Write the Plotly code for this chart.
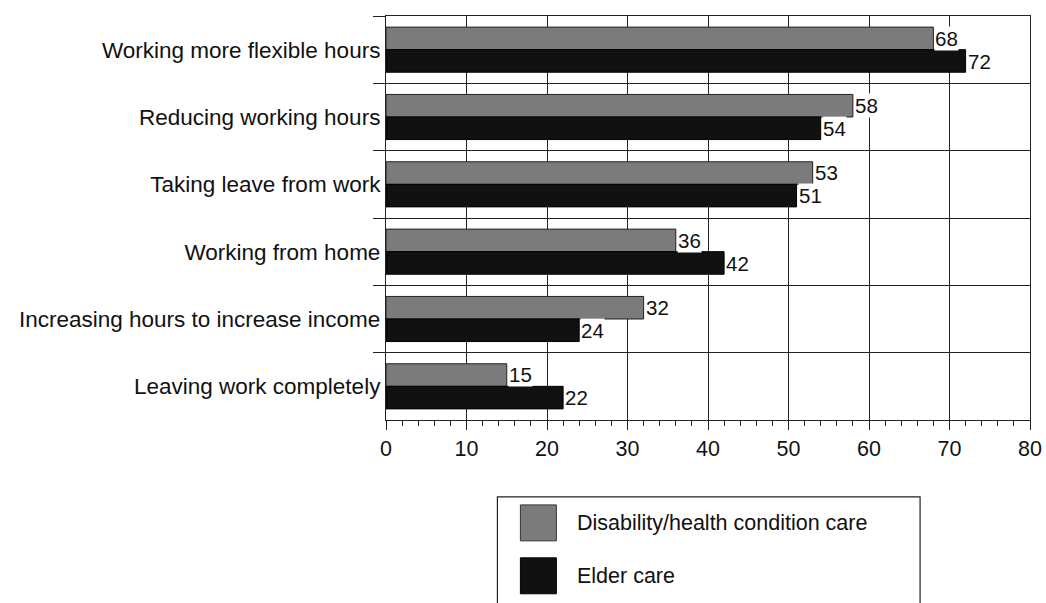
import plotly.graph_objects as go

categories = [
    "Working more flexible hours",
    "Reducing working hours",
    "Taking leave from work",
    "Working from home",
    "Increasing hours to increase income",
    "Leaving work completely",
]
disability = [68, 58, 53, 36, 32, 15]
elder = [72, 54, 51, 42, 24, 22]
series_names = ["Disability/health condition care", "Elder care"]
x_ticks = [0, 10, 20, 30, 40, 50, 60, 70, 80]

FONT = "Liberation Sans, Arial, sans-serif"
GREY = "#7b7b7b"
BLACK = "#111111"

fig = go.Figure()
fig.add_trace(go.Bar(y=categories, x=disability, orientation="h", name=series_names[0],
                     marker=dict(color=GREY, line=dict(color="#222", width=1)), showlegend=False))
fig.add_trace(go.Bar(y=categories, x=elder, orientation="h", name=series_names[1],
                     marker=dict(color=BLACK, line=dict(color="#000", width=1)), showlegend=False))

# value labels with white background
for vals, shift in [(disability, 11.5), (elder, -11.5)]:
    for c, v in zip(categories, vals):
        fig.add_annotation(x=v, y=c, text=str(v), showarrow=False, xanchor="left",
                           yshift=shift, xshift=1, bgcolor="white", borderpad=0,
                           font=dict(family=FONT, size=20.5, color="#111"))

# manual legend (pixel positions converted to paper coordinates)
X0, X1, Y0, Y1 = 385.5, 1030, 420, 15.5

def px_x(p):
    return (p - X0) / (X1 - X0)

def px_y(p):
    return (Y0 - p) / (Y0 - Y1)

fig.add_shape(type="rect", xref="paper", yref="paper", x0=px_x(497), x1=px_x(920),
              y0=px_y(497), y1=px_y(640), line=dict(color="#222", width=1.2), fillcolor="white")
fig.add_shape(type="rect", xref="paper", yref="paper", x0=px_x(520), x1=px_x(556),
              y0=px_y(505), y1=px_y(541), line=dict(color="#333", width=1), fillcolor=GREY)
fig.add_shape(type="rect", xref="paper", yref="paper", x0=px_x(520), x1=px_x(556),
              y0=px_y(558), y1=px_y(594), line=dict(color="#000", width=1), fillcolor=BLACK)
fig.add_annotation(xref="paper", yref="paper", x=px_x(575), y=px_y(523), text=series_names[0],
                   showarrow=False, xanchor="left", yanchor="middle",
                   font=dict(family=FONT, size=21.5, color="#111"))
fig.add_annotation(xref="paper", yref="paper", x=px_x(575), y=px_y(576), text=series_names[1],
                   showarrow=False, xanchor="left", yanchor="middle",
                   font=dict(family=FONT, size=21.5, color="#111"))

fig.update_layout(
    width=1046, height=603,
    margin=dict(l=385.5, r=16, t=15.5, b=183),
    paper_bgcolor="white", plot_bgcolor="white",
    barmode="group", bargap=0.33, bargroupgap=0,
    font=dict(family=FONT, size=22, color="#111"),
)
fig.update_xaxes(range=[0, 80], tickvals=x_ticks, ticktext=[str(t) for t in x_ticks],
                 showgrid=True, gridcolor="#222", gridwidth=1,
                 showline=True, linecolor="#222", linewidth=1.2, mirror=True,
                 ticks="outside", ticklen=9, tickcolor="#222",
                 minor=dict(dtick=2, ticks="outside", ticklen=5, tickcolor="#222", showgrid=False),
                 zeroline=False, automargin=False, ticklabeloverflow="allow",
                 tickfont=dict(family=FONT, size=21.5, color="#111"))
fig.update_yaxes(autorange="reversed", type="category", tickson="boundaries",
                 showgrid=True, gridcolor="#222", gridwidth=1,
                 showline=True, linecolor="#222", linewidth=1.2, mirror=True,
                 ticks="outside", ticklen=12, tickcolor="#222", automargin=False,
                 tickfont=dict(family=FONT, size=22.5, color="#111"))

fig.write_html("out.html", config={"displayModeBar": False},
               post_script="document.body.style.margin='0';document.body.style.padding='0';")
